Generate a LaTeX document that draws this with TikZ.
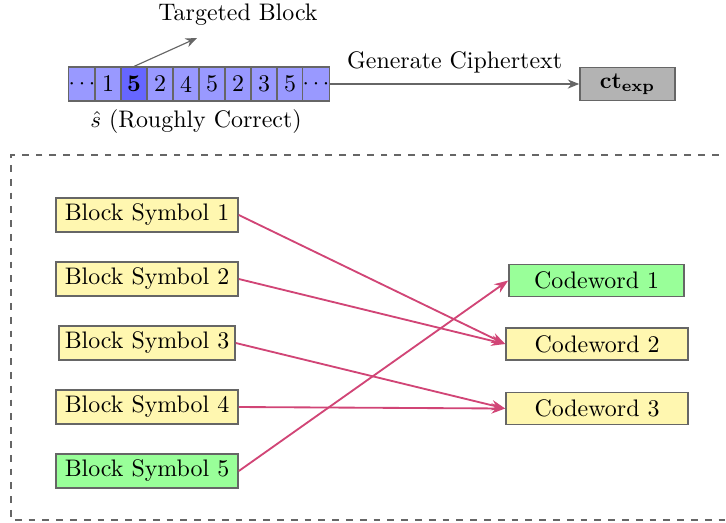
\documentclass[tikz,border=0pt]{standalone}
\usetikzlibrary{arrows.meta}
\definecolor{cellfill}{RGB}{153,153,255}
\definecolor{cellhot}{RGB}{102,102,255}
\definecolor{symfill}{RGB}{255,247,176}
\definecolor{hitfill}{RGB}{153,255,153}
\definecolor{ctfill}{RGB}{179,179,179}
\definecolor{edgegray}{RGB}{102,102,102}
\definecolor{linkred}{RGB}{209,69,118}
\def\u{0.4348pt}
\tikzset{
  every node/.style={font=\fontsize{10.4}{12.5}\selectfont},
  cell/.style={draw=edgegray, fill=cellfill, line width=0.5pt, minimum width=26*\u, minimum height=34*\u, inner sep=0pt},
  symbox/.style={draw=edgegray, fill=symfill, line width=0.7pt, minimum width=182*\u, minimum height=34*\u, inner sep=0pt},
  cwbox/.style={draw=edgegray, fill=symfill, line width=0.7pt, minimum width=182*\u, minimum height=32*\u, inner sep=0pt},
  ctbox/.style={draw=edgegray, fill=ctfill, line width=0.7pt, minimum width=95*\u, minimum height=33*\u, inner sep=0pt},
  grayarrow/.style={draw=edgegray, line width=0.5pt, -{Stealth[length=5pt,width=4pt]}},
  link/.style={draw=linkred, line width=0.8pt, -{Stealth[length=6pt,width=4.5pt]}},
}
\begin{document}
\begin{tikzpicture}[x=\u, y=-\u]
\useasboundingbox (0,0) rectangle (726,522);

% dashed frame (runs past the right edge)
\draw[edgegray, dashed, line width=0.7pt] (760,155) -- (11,155) -- (11,520) -- (760,520);

% the estimated secret, one cell per symbol
\foreach \t [count=\i] in {$\cdots$,1,{},2,4,5,2,3,5,$\cdots$} {
  \node[cell] (c\i) at ({69+26*\i-13},84) {\t};
}
\node[cell, fill=cellhot] (c3) at ({69+26*3-13},84) {\textbf{5}};

\node (tb) at (238,15) {Targeted Block};
\coordinate (tbend) at (197,38);
\draw[grayarrow] (c3.north) -- (tbend);

\node (shat) at (196,122) {$\hat{s}$ (Roughly Correct)};

\node[ctbox] (ct) at (627.5,84) {$\mathbf{ct}_{\mathbf{exp}}$};
\draw[grayarrow] (c10.east) -- node[above=1pt] {Generate Ciphertext} (ct.west);

% block symbols
\node[symbox] (b1) at (147,215) {Block Symbol 1};
\node[symbox] (b2) at (147,279) {Block Symbol 2};
\node[symbox, minimum width=176*\u] (b3) at (147,343) {Block Symbol 3};
\node[symbox] (b4) at (147,407) {Block Symbol 4};
\node[symbox, fill=hitfill] (b5) at (147,471) {Block Symbol 5};

% codewords
\node[cwbox, fill=hitfill, minimum width=175*\u] (w1) at (596.5,280.5) {Codeword 1};
\node[cwbox] (w2) at (597,344) {Codeword 2};
\node[cwbox] (w3) at (597,408.5) {Codeword 3};

\draw[link] (b1.east) -- (w2.west);
\draw[link] (b2.east) -- (w2.west);
\draw[link] (b3.east) -- (w3.west);
\draw[link] (b4.east) -- (w3.west);
\draw[link] (b5.east) -- (w1.west);
\end{tikzpicture}
\end{document}
